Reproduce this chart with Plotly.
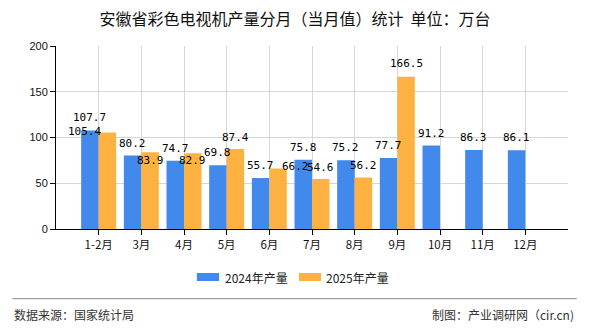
import plotly.graph_objects as go

months = ["1-2月", "3月", "4月", "5月", "6月", "7月", "8月", "9月", "10月", "11月", "12月"]
prod_2024 = [107.7, 80.2, 74.7, 69.8, 55.7, 75.8, 75.2, 77.7, 91.2, 86.3, 86.1]
prod_2025 = [105.4, 83.9, 82.9, 87.4, 66.2, 54.6, 56.2, 166.5, None, None, None]
series_names = ["2024年产量", "2025年产量"]
y_ticks = [0, 50, 100, 150, 200]

BLUE = "#4189ec"
ORANGE = "#fdb241"
label_font = dict(family="DejaVu Sans Mono, Liberation Mono, monospace", size=11, color="#000")

# label offsets (pixel styling, per point) mimicking the reference placement
off_2024 = [(0, 12.5)] * len(months)
off_2025 = [(-23, 1), (0, -8.5), (0, -7.5), (0, 11.5), (17, 1.5), (0, 11.5), (0, 12), (0, 13),
            (0, 0), (0, 0), (0, 0)]

fig = go.Figure()
fig.add_trace(go.Bar(x=months, y=prod_2024, name=series_names[0], marker_color=BLUE,
                     marker_line_width=0, showlegend=False))
fig.add_trace(go.Bar(x=months, y=prod_2025, name=series_names[1], marker_color=ORANGE,
                     marker_line_width=0, showlegend=False))

half = 8.75
for vals, offs, sx in ((prod_2024, off_2024, -half), (prod_2025, off_2025, half)):
    for m, v, (dx, dy) in zip(months, vals, offs):
        if v is None:
            continue
        fig.add_annotation(x=m, y=v, text=f"{v:.1f}", showarrow=False,
                           xshift=sx + dx, yshift=dy, xanchor="center", yanchor="middle",
                           font=label_font)

# custom legend
def px_x(p):
    return (p - 55.7) / 512.6

def px_y(p):
    return (229.3 - p) / 183.0

for (x0, x1, col), (tx, name) in zip(
        [(196.7, 219, BLUE), (299, 321, ORANGE)],
        [(223.3, series_names[0]), (323.7, series_names[1])]):
    fig.add_shape(type="rect", xref="paper", yref="paper",
                  x0=px_x(x0), x1=px_x(x1), y0=px_y(281.3), y1=px_y(273.3),
                  fillcolor=col, line_width=0)
    fig.add_annotation(xref="paper", yref="paper", x=px_x(tx), y=px_y(277.3),
                       text=name, showarrow=False, xanchor="left", yanchor="middle",
                       font=dict(family="Noto Sans CJK SC", size=12, color="#222"))

# footer
fig.add_shape(type="line", xref="paper", yref="paper", x0=px_x(12), x1=px_x(577),
              y0=px_y(299), y1=px_y(299), line=dict(color="#888", width=1))
fig.add_annotation(xref="paper", yref="paper", x=px_x(12), y=px_y(315),
                   text="数据来源：国家统计局", showarrow=False, xanchor="left", yanchor="middle",
                   font=dict(family="Noto Sans CJK SC", size=12, color="#333"))
fig.add_annotation(xref="paper", yref="paper", x=px_x(576), y=px_y(315),
                   text="制图：产业调研网（cir.cn)", showarrow=False, xanchor="right", yanchor="middle",
                   font=dict(family="Noto Sans CJK SC", size=12, color="#333"))

fig.update_layout(
    width=590, height=330,
    margin=dict(l=56, r=22, t=46, b=101),
    paper_bgcolor="white", plot_bgcolor="white",
    barmode="group", bargap=0.18, bargroupgap=0,
    title=dict(text="安徽省彩色电视机产量分月（当月值）统计  单位：万台",
               x=0.5, xanchor="center", y=1 - 19 / 330, yanchor="middle",
               font=dict(family="Noto Sans CJK SC", size=16, color="#111")),
    showlegend=False,
)
fig.update_xaxes(type="category", range=[-1, 11], showline=True, linecolor="#000", linewidth=1,
                 showgrid=True, gridcolor="#d6d6d6", gridwidth=1,
                 ticks="outside", ticklen=5, tickcolor="#000",
                 tickfont=dict(family="Noto Sans CJK SC", size=11.5, color="#111"))
fig.update_yaxes(range=[0, 200], tickvals=y_ticks, showline=True, linecolor="#000", linewidth=1,
                 showgrid=True, gridcolor="#d6d6d6", gridwidth=1, zeroline=False,
                 ticks="outside", ticklen=5, tickcolor="#000",
                 tickfont=dict(family="Liberation Sans", size=11, color="#111"))

fig.write_html("out.html")
